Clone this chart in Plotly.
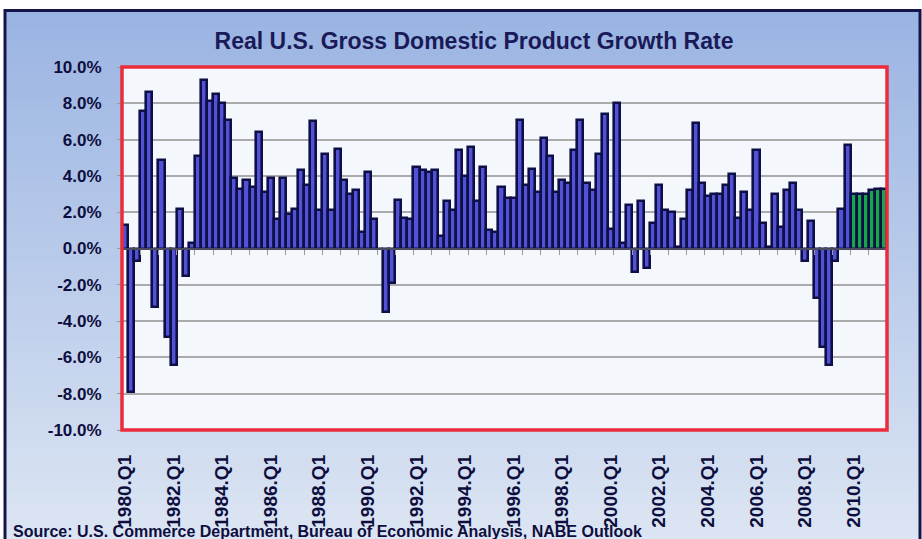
import plotly.graph_objects as go

# ---------------- data ----------------
years = list(range(1980, 2012))
quarters = [f"{y}.Q{q}" for y in years for q in range(1, 5)][:126]

growth = [
    1.3, -7.9, -0.7, 7.6,     # 1980
    8.6, -3.2, 4.9, -4.9,     # 1981
    -6.4, 2.2, -1.5, 0.3,     # 1982
    5.1, 9.3, 8.1, 8.5,       # 1983
    8.0, 7.1, 3.9, 3.3,       # 1984
    3.8, 3.4, 6.4, 3.1,       # 1985
    3.9, 1.6, 3.9, 1.9,       # 1986
    2.2, 4.3, 3.5, 7.0,       # 1987
    2.1, 5.2, 2.1, 5.5,       # 1988
    3.8, 3.0, 3.2, 0.9,       # 1989
    4.2, 1.6, 0.0, -3.5,      # 1990
    -1.9, 2.7, 1.7, 1.6,      # 1991
    4.5, 4.3, 4.2, 4.3,       # 1992
    0.7, 2.6, 2.1, 5.4,       # 1993
    4.0, 5.6, 2.6, 4.5,       # 1994
    1.0, 0.9, 3.4, 2.8,       # 1995
    2.8, 7.1, 3.5, 4.4,       # 1996
    3.1, 6.1, 5.1, 3.1,       # 1997
    3.8, 3.6, 5.4, 7.1,       # 1998
    3.6, 3.2, 5.2, 7.4,       # 1999
    1.1, 8.0, 0.3, 2.4,       # 2000
    -1.3, 2.6, -1.1, 1.4,     # 2001
    3.5, 2.1, 2.0, 0.1,       # 2002
    1.6, 3.2, 6.9, 3.6,       # 2003
    2.9, 3.0, 3.0, 3.5,       # 2004
    4.1, 1.7, 3.1, 2.1,       # 2005
    5.4, 1.4, 0.1, 3.0,       # 2006
    1.2, 3.2, 3.6, 2.1,       # 2007
    -0.7, 1.5, -2.7, -5.4,    # 2008
    -6.4, -0.7, 2.2, 5.7,     # 2009
    3.0, 3.0, 3.0, 3.2,       # 2010 (forecast)
    3.3, 3.3,                 # 2011 (forecast)
]
forecast_start = "2010.Q1"

tick_labels = quarters[::8]
y_ticks = [-10, -8, -6, -4, -2, 0, 2, 4, 6, 8, 10]
y_tick_text = [f"{v:.1f}%" for v in y_ticks]

title_text = "Real U.S. Gross Domestic Product Growth Rate"
source_text = "Source: U.S. Commerce Department, Bureau of Economic Analysis, NABE Outlook"

# ---------------- styling ----------------
W, H = 922, 539
ML, MR, MT, MB = 122, 35, 67, 109
PW, PH = W - ML - MR, H - MT - MB

def px_x(p):
    return (p - ML) / PW

def px_y(p):
    return (H - MB - p) / PH

NAVY = "#0E0E3E"
FONT = "Liberation Sans, Arial, sans-serif"

fi = quarters.index(forecast_start)
colors = ["#5252D6" if i < fi else "#14A848" for i in range(len(quarters))]

fig = go.Figure()
fig.add_trace(go.Bar(
    x=quarters, y=growth,
    marker=dict(color=colors, line=dict(color="#0F0F48", width=2.6)),
    hoverinfo="x+y", showlegend=False,
))
# invisible helper trace to carry the zero-line axis with quarter ticks
fig.add_trace(go.Scatter(
    x=quarters, y=[None] * len(quarters), xaxis="x2", yaxis="y",
    mode="lines", showlegend=False, hoverinfo="skip",
))

# background gradient (decoration)
shapes = []
top_c = (0x9A, 0xB4, 0xE2)
bot_c = (0xDC, 0xE5, 0xF3)
n_bands = 60
y_top, y_bot = 10, 545
for k in range(n_bands):
    t = k / (n_bands - 1)
    c = tuple(round(top_c[j] + (bot_c[j] - top_c[j]) * t) for j in range(3))
    p0 = y_top + (y_bot - y_top) * k / n_bands
    p1 = y_top + (y_bot - y_top) * (k + 1) / n_bands + 1
    shapes.append(dict(type="rect", xref="paper", yref="paper", layer="below",
                       x0=px_x(5), x1=px_x(921), y0=px_y(p1), y1=px_y(p0),
                       fillcolor="rgb(%d,%d,%d)" % c, line=dict(width=0)))
# outer frame
shapes.append(dict(type="rect", xref="paper", yref="paper", layer="below",
                   x0=px_x(5), x1=px_x(920), y0=px_y(560), y1=px_y(10.5),
                   fillcolor="rgba(0,0,0,0)", line=dict(color="#15154A", width=3)))
# plot-area background
shapes.append(dict(type="rect", xref="paper", yref="paper", layer="below",
                   x0=0, x1=1, y0=0, y1=1, fillcolor="#F4F7FC", line=dict(width=0)))
# red plot border
shapes.append(dict(type="rect", xref="paper", yref="paper", layer="above",
                   x0=0, x1=1, y0=0, y1=1, fillcolor="rgba(0,0,0,0)",
                   line=dict(color="#EC2B3B", width=3.5)))

fig.update_layout(
    width=W, height=H,
    margin=dict(l=ML, r=MR, t=MT, b=MB, pad=0),
    paper_bgcolor="white",
    plot_bgcolor="rgba(0,0,0,0)",
    bargap=0,
    shapes=shapes,
    title=dict(text=title_text, x=474 / W, y=1 - 41 / H,
               xanchor="center", yanchor="middle", xref="container", yref="container",
               font=dict(family=FONT, size=23, color="#1A1A58", weight="bold")),
    xaxis=dict(
        type="category", categoryorder="array", categoryarray=quarters,
        range=[-0.5, len(quarters) - 0.5],
        tickmode="array", tickvals=tick_labels, ticktext=tick_labels,
        tickangle=-90, ticks="", showgrid=False, showline=False, zeroline=False,
        ticklabelstandoff=20,
        tickfont=dict(family=FONT, size=19, color=NAVY, weight="bold"),
    ),
    xaxis2=dict(
        type="category", categoryorder="array", categoryarray=quarters,
        overlaying="x", anchor="free", position=0.5, side="bottom",
        range=[-0.5, len(quarters) - 0.5],
        tickson="boundaries", ticks="outside", ticklen=5, tickwidth=1.3,
        tickcolor="#9A9A9A", showticklabels=False, showgrid=False,
        showline=True, linecolor="#4A4A5E", linewidth=2, zeroline=False,
    ),
    yaxis=dict(
        range=[-10, 10], tickmode="array", tickvals=y_ticks, ticktext=y_tick_text,
        showgrid=True, gridcolor="#ABABAB", gridwidth=1.6, zeroline=False,
        ticks="outside", ticklen=4, tickcolor="#9A9A9A",
        showline=False, ticklabelstandoff=12,
        tickfont=dict(family=FONT, size=17, color=NAVY, weight="bold"),
    ),
    annotations=[dict(
        text=source_text, xref="paper", yref="paper",
        x=px_x(11), y=px_y(531), xanchor="left", yanchor="middle",
        showarrow=False,
        font=dict(family=FONT, size=16, color=NAVY, weight="bold"),
    )],
)

fig.write_html("out.html", config={"displayModeBar": False},
               post_script="document.body.style.margin='0';")
